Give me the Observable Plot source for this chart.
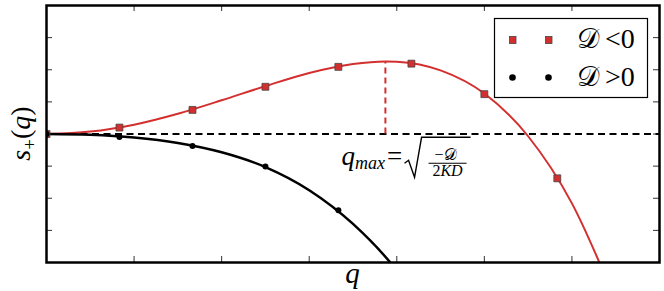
<!DOCTYPE html>
<html>
<head>
<meta charset="utf-8">
<script src="https://cdn.jsdelivr.net/npm/d3@7"></script>
<script src="https://cdn.jsdelivr.net/npm/@observablehq/plot@0.6"></script>
<style>
  html, body { margin: 0; padding: 0; background: #fff; }
  #chart svg { display: block; }
</style>
</head>
<body>
<div id="chart"></div>
<script>
// ---- data ----
// red curve (D < 0): s+(q) sampled along q
const qRed = [0, 0.5, 1, 1.5, 2, 2.5, 3, 3.5, 3.87, 4, 4.5, 5, 5.5, 6, 6.5];
const sRed = [0, 0.075, 0.29, 0.63, 1.05, 1.49, 1.9, 2.18, 2.26, 2.25, 1.98, 1.26, -0.07, -2.16, -5.2];
// black curve (D > 0)
const qBlack = [0, 0.5, 1, 1.5, 2, 2.5, 3, 3.5, 4, 4.5];
const sBlack = [0, -0.026, -0.11, -0.28, -0.57, -1.03, -1.75, -2.8, -4.25, -6.3];
// markers
const qRedMarks = [0, 0.833, 1.667, 2.5, 3.333, 4.167, 5, 5.833];
const sRedMarks = [0, 0.2, 0.75, 1.47, 2.09, 2.19, 1.24, -1.38];
const qBlackMarks = [0, 0.833, 1.667, 2.5, 3.333];
const sBlackMarks = [0, -0.09, -0.37, -1.01, -2.37];
// maximum of the red curve
const qMax = [3.87];
const sMax = [2.26];
// tick positions (no labels)
const xTicks = [1, 2, 3, 4, 5, 6];
const yTicks = [-3, -2, -1, 0, 1, 2, 3];
const legendSymbols = ["𝒟", "𝒟"];
const legendRel = ["<0", ">0"];

const RED = "#d42f2f";
const W = 664, H = 291;
const mT = 5, mB = 29, mL = 46, mR = 5;
const innerH = H - mT - mB, innerW = W - mL - mR;
const TL = 6; // tick length

const redData = qRed.map((q, i) => ({q, s: sRed[i]}));
const blackData = qBlack.map((q, i) => ({q, s: sBlack[i]}));
const redMarks = qRedMarks.map((q, i) => ({q, s: sRedMarks[i]}));
const blackMarks = qBlackMarks.map((q, i) => ({q, s: sBlackMarks[i]}));
const maxData = qMax.map((q, i) => ({q, s: sMax[i]}));

const NS = "http://www.w3.org/2000/svg";
const FONT = "font-family:'Liberation Serif','Times New Roman','DejaVu Serif',serif;";
function el(name, attrs, text, style) {
  const e = document.createElementNS(NS, name);
  for (const k in attrs) e.setAttribute(k, attrs[k]);
  if (style) e.setAttribute("style", style);
  if (text != null) e.textContent = text;
  return e;
}
const st = (size, italic, anchor) =>
  FONT + `font-size:${size}px;font-style:${italic ? "italic" : "normal"};text-anchor:${anchor || "start"};`;

function annotations(index, scales) {
  const {x, y} = scales;
  const g = el("g", {fill: "black"}, null, FONT + "text-anchor:start;");
  // y axis label  s_+(q)
  const yl = el("text", {transform: `translate(30,${y(0)}) rotate(-90)`}, null, st(28, true, "middle"));
  yl.appendChild(el("tspan", {}, "s"));
  yl.appendChild(el("tspan", {dy: 6}, "+", "font-size:19px;font-style:normal;"));
  yl.appendChild(el("tspan", {dy: -6}, "(", "font-style:normal;"));
  yl.appendChild(el("tspan", {}, "q"));
  yl.appendChild(el("tspan", {}, ")", "font-style:normal;"));
  g.appendChild(yl);
  // x axis label
  g.appendChild(el("text", {x: x(3.5), y: 283}, "q", st(29, true, "middle")));

  // formula q_max = sqrt(-D / 2KD)
  const ax = x(3.375), ay = y(-0.99);
  const f = el("g", {transform: `translate(${ax},${ay})`});
  const lhs = el("text", {x: 0, y: 0}, null, st(27, true, "start"));
  lhs.appendChild(el("tspan", {}, "q"));
  lhs.appendChild(el("tspan", {dy: 4}, "max", "font-size:18px;"));
  lhs.appendChild(el("tspan", {dy: -4, dx: 2}, "=", "font-style:normal;"));
  f.appendChild(lhs);
  f.appendChild(el("path", {d: "M63,-2 L67,-5 L73,12 L80,-28 L129,-28", fill: "none", stroke: "black", "stroke-width": 1.4}));
  f.appendChild(el("text", {x: 104, y: -5}, "−𝒟", st(16, false, "middle")));
  f.appendChild(el("line", {x1: 87, x2: 125, y1: -2, y2: -2, stroke: "black", "stroke-width": 1.1}));
  const den = el("text", {x: 106, y: 11}, null, st(16, false, "middle"));
  den.appendChild(el("tspan", {}, "2"));
  den.appendChild(el("tspan", {}, "KD", "font-style:italic;"));
  f.appendChild(den);
  g.appendChild(f);

  // legend
  const lg = el("g", {});
  lg.appendChild(el("rect", {x: 494.5, y: 18.5, width: 153, height: 79, fill: "white", stroke: "black", "stroke-width": 1.2}));
  const rows = [40, 77.5];
  [512.5, 548.5].forEach(mx => {
    lg.appendChild(el("rect", {x: mx - 3, y: rows[0] - 3.5, width: 6.5, height: 7, fill: RED, stroke: "#444", "stroke-width": 0.8}));
    lg.appendChild(el("circle", {cx: mx, cy: rows[1], r: 3.3, fill: "black"}));
  });
  legendSymbols.forEach((t, i) => {
    lg.appendChild(el("text", {x: 577, y: rows[i] + 8}, t, st(28, false, "start")));
    lg.appendChild(el("text", {x: 605, y: rows[i] + 8}, legendRel[i], st(28, false, "start")));
  });
  g.appendChild(lg);
  return g;
}

const chart = Plot.plot({
  width: W,
  height: H,
  marginTop: mT, marginBottom: mB, marginLeft: mL, marginRight: mR,
  x: {domain: [0, 7], axis: null},
  y: {domain: [-4, 4], axis: null},
  style: {background: "white"},
  marks: [
    // inward ticks on all four sides
    Plot.ruleX(xTicks, {x: d => d, insetTop: innerH - TL, stroke: "#333", strokeWidth: 1}),
    Plot.ruleX(xTicks, {x: d => d, insetBottom: innerH - TL, stroke: "#333", strokeWidth: 1}),
    Plot.ruleY(yTicks, {y: d => d, insetRight: innerW - TL, stroke: "#333", strokeWidth: 1}),
    Plot.ruleY(yTicks, {y: d => d, insetLeft: innerW - TL, stroke: "#333", strokeWidth: 1}),
    // zero line
    Plot.ruleY([0], {stroke: "black", strokeWidth: 2.2, strokeDasharray: "7,4.5"}),
    // q_max dashed rule
    Plot.ruleX(maxData, {x: "q", y1: 0, y2: "s", stroke: RED, strokeWidth: 2, strokeDasharray: "6,4"}),
    Plot.line(redData, {x: "q", y: "s", stroke: RED, strokeWidth: 2, curve: "monotone-x", clip: true}),
    Plot.line(blackData, {x: "q", y: "s", stroke: "black", strokeWidth: 2.5, curve: "monotone-x", clip: true}),
    Plot.dot(redMarks, {x: "q", y: "s", symbol: "square", r: 3.9, fill: RED, stroke: "#444", strokeWidth: 0.8, clip: true}),
    Plot.dot(blackMarks, {x: "q", y: "s", r: 3, fill: "black", clip: true}),
    Plot.frame({stroke: "black", strokeWidth: 2.5}),
    annotations
  ]
});
document.getElementById("chart").appendChild(chart);
</script>
</body>
</html>
